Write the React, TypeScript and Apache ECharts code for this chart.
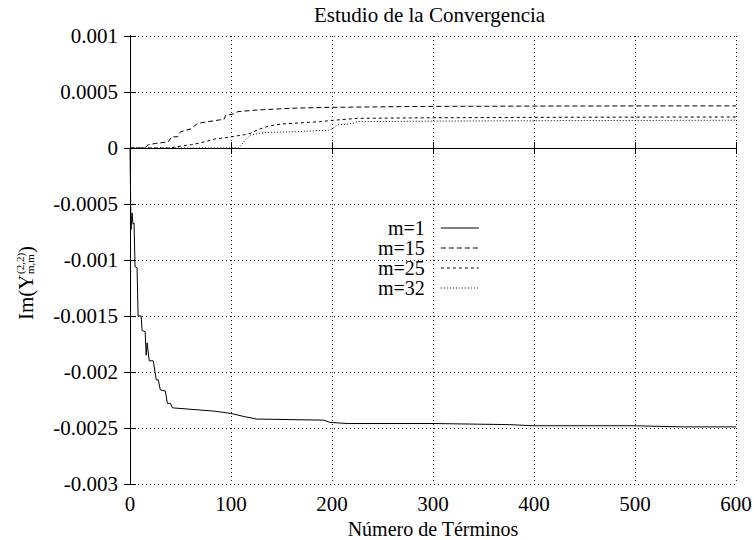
import React, { useEffect, useRef } from "react";
import * as echarts from "echarts";

const titleText = "Estudio de la Convergencia";
const xName = "Número de Términos";
const seriesNames = ["m=1", "m=15", "m=25", "m=32"];

const m1Data: [number, number][] = [
  [0, 0], [1, -0.00073], [2, -0.00058], [3, -0.00068], [4, -0.00067], [5, -0.00106],
  [7, -0.00107], [8, -0.0015], [11, -0.0015], [12, -0.00163], [15, -0.00164],
  [16, -0.00185], [17, -0.00174], [19, -0.0019], [23, -0.0019], [26, -0.00207],
  [28, -0.00207], [30, -0.00216], [35, -0.00217], [37, -0.00228], [40, -0.00228],
  [42, -0.00232], [84, -0.00235], [100, -0.00237], [114, -0.0024], [120, -0.00241],
  [125, -0.00242], [192, -0.00243], [198, -0.00245], [215, -0.00246], [300, -0.00246],
  [376, -0.00247], [399, -0.00248], [498, -0.00248], [548, -0.00249], [600, -0.00249],
];

const m15Data: [number, number][] = [
  [0, 0], [15, 0], [18, 0.00003], [25, 0.00004], [38, 0.000055], [41, 0.0001],
  [47, 0.0001], [50, 0.000145], [60, 0.00017], [67, 0.00022], [88, 0.00025],
  [93, 0.000255], [95, 0.000295], [101, 0.0003], [107, 0.000325], [127, 0.00034],
  [160, 0.000355], [198, 0.000363], [300, 0.000372], [450, 0.000375], [600, 0.000376],
];

const m25Data: [number, number][] = [
  [0, 0], [40, 0], [45, 0.00001], [61, 0.00003], [74, 0.000055], [84, 0.00008],
  [97, 0.000095], [114, 0.00012], [119, 0.00013], [127, 0.000165], [137, 0.000195],
  [150, 0.000214], [188, 0.000235], [198, 0.000245], [225, 0.000265], [300, 0.00027],
  [450, 0.000275], [600, 0.000277],
];

const m32Data: [number, number][] = [
  [0, 0], [108, 0], [112, 0.000048], [119, 0.000115], [132, 0.000137], [165, 0.000146],
  [198, 0.00016], [201, 0.000176], [205, 0.000205], [221, 0.00022], [225, 0.000235],
  [300, 0.00024], [450, 0.000245], [600, 0.000248],
];

const FONT = "Liberation Serif";

export default function App() {
  const ref = useRef<HTMLDivElement>(null);
  useEffect(() => {
    if (!ref.current) return;
    const chart = echarts.init(ref.current, null, { renderer: "svg" });
    const fmt = (v: number) => String(parseFloat(v.toPrecision(6)));
    const gridLine = { show: true, lineStyle: { color: "#222", width: 1, type: [1, 3] as any } };
    const axisLine = { show: true, lineStyle: { color: "#000", width: 1 } };
    const tick = { show: true, inside: true, length: 6, lineStyle: { color: "#000" } };
    const dashes: any[] = ["solid", [5, 3], [3, 3], [1, 2]];
    const datas = [m1Data, m15Data, m25Data, m32Data];
    const labelStyle = { fontFamily: FONT, fontSize: 21, color: "#000" };
    chart.setOption({
      animation: false,
      backgroundColor: "#fff",
      textStyle: { fontFamily: FONT },
      title: {
        text: titleText,
        left: 314,
        top: 4,
        padding: 0,
        textStyle: { fontFamily: FONT, fontSize: 21, fontWeight: "normal", color: "#000" },
      },
      grid: { left: 130, right: 18, top: 36, bottom: 56, containLabel: false, outerBoundsMode: "none" },
      legend: {
        orient: "vertical",
        align: "right",
        left: 378,
        top: 218,
        padding: 0,
        itemGap: 0,
        itemWidth: 38,
        itemHeight: 10,
        data: seriesNames,
        itemStyle: { opacity: 0 },
        lineStyle: { width: 1 },
        textStyle: { fontFamily: FONT, fontSize: 20, color: "#000", lineHeight: 20, padding: [0, 11, 0, 0] },
      },
      xAxis: [
        {
          type: "value", min: 0, max: 600, interval: 100, position: "bottom",
          axisLine, axisTick: tick, splitLine: gridLine,
          axisLabel: { ...labelStyle, margin: 9 },
        },
        {
          type: "value", min: 0, max: 600, interval: 100, position: "top",
          axisLine, axisTick: tick, splitLine: { show: false }, axisLabel: { show: false },
        },
      ],
      yAxis: [
        {
          type: "value", min: -0.003, max: 0.001, interval: 0.0005, position: "left",
          axisLine, axisTick: tick, splitLine: gridLine,
          axisLabel: { ...labelStyle, margin: 12, formatter: fmt },
        },
        {
          type: "value", min: -0.003, max: 0.001, interval: 0.0005, position: "right",
          axisLine, axisTick: tick, splitLine: { show: false }, axisLabel: { show: false },
        },
      ],
      graphic: [
        {
          type: "text",
          x: 433,
          y: 529,
          style: { text: xName, fontFamily: FONT, fontSize: 20, fill: "#000", align: "center", verticalAlign: "middle" },
        },
        {
          type: "group",
          x: 26,
          y: 320,
          rotation: Math.PI / 2,
          children: [
            { type: "text", x: 0, y: 0, style: { text: "Im(Y", fontFamily: FONT, fontSize: 21, fill: "#000", verticalAlign: "middle", align: "left" } },
            { type: "text", x: 46, y: -6, style: { text: "(2,2)", fontFamily: FONT, fontSize: 11, fill: "#000", verticalAlign: "middle", align: "left" } },
            { type: "text", x: 46, y: 4, style: { text: "m,m", fontFamily: FONT, fontSize: 11, fill: "#000", verticalAlign: "middle", align: "left" } },
            { type: "text", x: 67, y: 0, style: { text: ")", fontFamily: FONT, fontSize: 21, fill: "#000", verticalAlign: "middle", align: "left" } },
          ],
        },
      ],
      series: seriesNames.map((name, i) => ({
        name,
        type: "line",
        xAxisIndex: 0,
        yAxisIndex: 0,
        data: datas[i],
        showSymbol: false,
        symbol: "none",
        color: "#000",
        lineStyle: { color: "#000", width: 1, type: dashes[i] },
      })),
    });
    return () => chart.dispose();
  }, []);
  return (
    <div
      ref={ref}
      style={{ position: "fixed", left: 0, top: 0, width: 754, height: 540 }}
    />
  );
}
